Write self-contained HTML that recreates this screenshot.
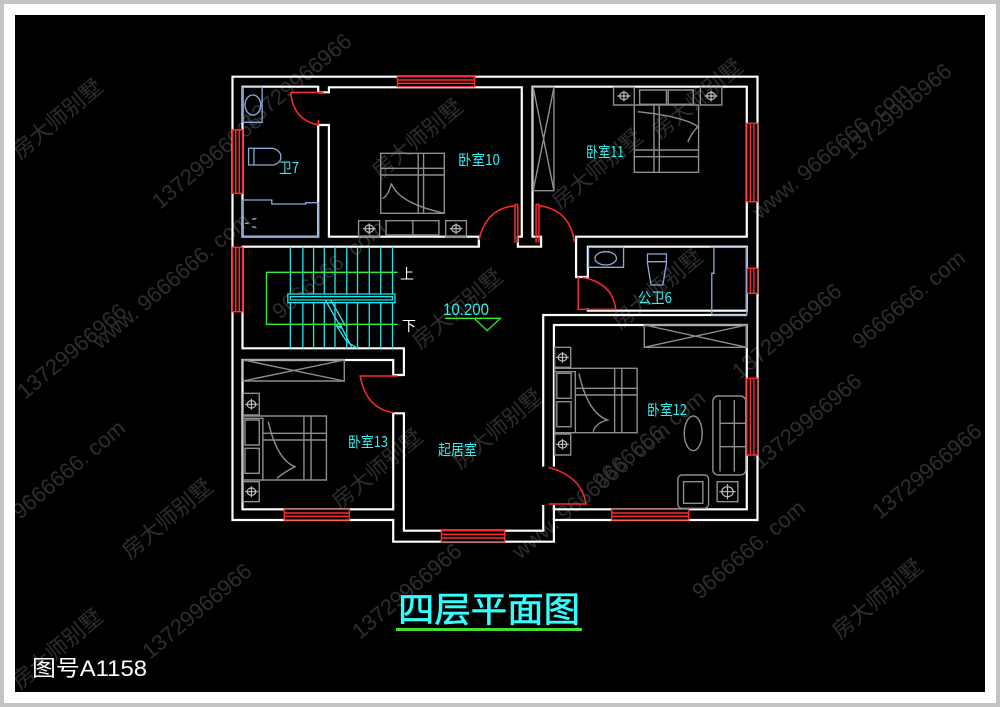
<!DOCTYPE html>
<html><head><meta charset="utf-8"><style>
html,body{margin:0;padding:0;background:#fff;}
svg{display:block;}
</style></head><body>
<svg width="1000" height="707" viewBox="0 0 1000 707" xmlns="http://www.w3.org/2000/svg">
<defs><clipPath id="blk"><rect x="15" y="15" width="970" height="677"/></clipPath></defs>
<rect x="0" y="0" width="1000" height="707" fill="#c4c4c4"/>
<rect x="4" y="4" width="992" height="699" fill="#ffffff"/>
<rect x="15" y="15" width="970" height="677" fill="#000"/>

<!-- watermarks -->
<g clip-path="url(#blk)">
<g fill="#2e2e2e" font-family="Liberation Sans, 'Noto Sans CJK SC', sans-serif" font-size="22">
<text transform="translate(20,160) rotate(-40)">房大师别墅</text>
<text transform="translate(25,400) rotate(-40)">13729966966</text>
<text transform="translate(20,520) rotate(-40)">9666666. com</text>
<text transform="translate(20,690) rotate(-40)">房大师别墅</text>
<text transform="translate(100,350) rotate(-40)">www. 9666666. com</text>
<text transform="translate(130,560) rotate(-40)">房大师别墅</text>
<text transform="translate(150,660) rotate(-40)">13729966966</text>
<text transform="translate(160,210) rotate(-40)">13729966966</text>
<text transform="translate(250,130) rotate(-40)">13729966966</text>
<text transform="translate(280,320) rotate(-40)">9666666. com</text>
<text transform="translate(340,510) rotate(-40)">房大师别墅</text>
<text transform="translate(360,640) rotate(-40)">13729966966</text>
<text transform="translate(380,180) rotate(-40)">房大师别墅</text>
<text transform="translate(420,350) rotate(-40)">房大师别墅</text>
<text transform="translate(460,470) rotate(-40)">房大师别墅</text>
<text transform="translate(520,560) rotate(-40)">www. 9666666. com</text>
<text transform="translate(560,210) rotate(-40)">房大师别墅</text>
<text transform="translate(600,490) rotate(-40)">9666666. com</text>
<text transform="translate(620,330) rotate(-40)">房大师别墅</text>
<text transform="translate(660,140) rotate(-40)">房大师别墅</text>
<text transform="translate(700,600) rotate(-40)">9666666. com</text>
<text transform="translate(740,380) rotate(-40)">13729966966</text>
<text transform="translate(760,220) rotate(-40)">www. 9666666. com</text>
<text transform="translate(760,470) rotate(-40)">13729966966</text>
<text transform="translate(840,640) rotate(-40)">房大师别墅</text>
<text transform="translate(860,350) rotate(-40)">9666666. com</text>
<text transform="translate(850,160) rotate(-40)">13729966966</text>
<text transform="translate(880,520) rotate(-40)">13729966966</text>
</g>
</g>

<g transform="translate(220 60) scale(0.357142857 0.333333333)" fill="none" stroke-linejoin="miter">
<g stroke="#ffffff" stroke-width="2.2">
<path vector-effect="non-scaling-stroke" d="M35 50 H1505 V1380 H935 V1445 H485 V1380 H35 Z"/>
<path vector-effect="non-scaling-stroke" d="M275 97 V80 H63 V530 H275 V195 H305 V530 H725 V560 H63 V865 H515 V945 H485 V900 H63 V1348 H485 V1060 H515 V1412 H905 V1335"/>
<path vector-effect="non-scaling-stroke" d="M275 97 H305 V82 H845 V530 H834 V560 H899 V530 H875 V80 H1475 V530 H994"/>
<path vector-effect="non-scaling-stroke" d="M997 530 V651 H1030 V560 H1475 V752 H1030 V745"/>
<path vector-effect="non-scaling-stroke" d="M905 1220 V765 H1475"/>
<path vector-effect="non-scaling-stroke" d="M935 1220 V795 H1475 V1348 H935 V1335"/>
<path vector-effect="non-scaling-stroke" d="M935 1335 V1380"/>
<path vector-effect="non-scaling-stroke" d="M725 530 V560"/>
</g>

<!-- windows -->
<g stroke="#ff2a2a" stroke-width="1.4" fill="#000">
<rect vector-effect="non-scaling-stroke" x="497" y="50" width="216" height="30"/>
<path vector-effect="non-scaling-stroke" d="M497 60 H713 M497 70 H713"/>
<rect vector-effect="non-scaling-stroke" x="35" y="210" width="28" height="190"/>
<path vector-effect="non-scaling-stroke" d="M44 210 V400 M54 210 V400"/>
<rect vector-effect="non-scaling-stroke" x="35" y="562" width="28" height="193"/>
<path vector-effect="non-scaling-stroke" d="M44 562 V755 M54 562 V755"/>
<rect vector-effect="non-scaling-stroke" x="1475" y="190" width="30" height="235"/>
<path vector-effect="non-scaling-stroke" d="M1485 190 V425 M1495 190 V425"/>
<rect vector-effect="non-scaling-stroke" x="1475" y="625" width="30" height="75"/>
<path vector-effect="non-scaling-stroke" d="M1485 625 V700 M1495 625 V700"/>
<rect vector-effect="non-scaling-stroke" x="1475" y="955" width="30" height="230"/>
<path vector-effect="non-scaling-stroke" d="M1485 955 V1185 M1495 955 V1185"/>
<rect vector-effect="non-scaling-stroke" x="180" y="1348" width="182" height="32"/>
<path vector-effect="non-scaling-stroke" d="M180 1359 H362 M180 1369 H362"/>
<rect vector-effect="non-scaling-stroke" x="620" y="1412" width="177" height="33"/>
<path vector-effect="non-scaling-stroke" d="M620 1423 H797 M620 1434 H797"/>
<rect vector-effect="non-scaling-stroke" x="1097" y="1348" width="215" height="32"/>
<path vector-effect="non-scaling-stroke" d="M1097 1359 H1312 M1097 1369 H1312"/>
</g>

<!-- doors -->
<g stroke="#ff2a2a" stroke-width="1.5">
<path vector-effect="non-scaling-stroke" d="M290 97 H198 M198 97 Q205 180 275 195 M275 180 V197"/>
<path vector-effect="non-scaling-stroke" d="M826 433 V548 M834 433 V548 M826 433 H834 M725 540 Q745 445 826 437"/>
<path vector-effect="non-scaling-stroke" d="M885 433 V548 M893 433 V548 M885 433 H893 M893 437 Q980 450 992 545"/>
<path vector-effect="non-scaling-stroke" d="M1003 650 V748 H1110 M1015 652 Q1100 670 1108 748"/>
<path vector-effect="non-scaling-stroke" d="M390 948 H497 M393 950 Q410 1048 488 1058"/>
<path vector-effect="non-scaling-stroke" d="M920 1332 H1025 M920 1222 Q1015 1250 1025 1335"/>
</g>

<!-- stairs -->
<g stroke="#22e8ee" stroke-width="1.3">
<path vector-effect="non-scaling-stroke" d="M197 560 V865 M232 560 V865 M262 560 V865 M292 560 V865 M322 560 V865 M355 560 V865 M385 560 V865 M418 560 V865 M450 560 V865 M483 560 V865"/>
<rect vector-effect="non-scaling-stroke" x="190" y="702" width="300" height="26" fill="#000"/>
<rect vector-effect="non-scaling-stroke" x="197" y="710" width="286" height="10"/>
<path vector-effect="non-scaling-stroke" d="M295 720 L340 805 L325 795 L355 845 L385 865 M310 720 L350 795 L335 790 L370 865"/>
</g>
<g stroke="#33ee33" stroke-width="1.3">
<path vector-effect="non-scaling-stroke" d="M497 637 H130 V793 H497"/>
<path vector-effect="non-scaling-stroke" d="M630 775 H785 L748 812 L712 775"/>
</g>

<!-- furniture gray -->
<g stroke="#8e8e8e" stroke-width="1.4">
<rect vector-effect="non-scaling-stroke" x="450" y="280" width="178" height="180"/>
<path vector-effect="non-scaling-stroke" d="M450 325 H628 M450 345 H628 M555 280 V460 M570 280 V460 M480 370 Q500 430 630 460 M480 370 Q470 410 455 415"/>
<rect vector-effect="non-scaling-stroke" x="388" y="482" width="59" height="48"/>
<rect vector-effect="non-scaling-stroke" x="632" y="482" width="58" height="48"/>
<rect vector-effect="non-scaling-stroke" x="465" y="482" width="148" height="43"/>
<path vector-effect="non-scaling-stroke" d="M540 482 V525"/>
<rect vector-effect="non-scaling-stroke" x="1160" y="135" width="180" height="202"/>
<path vector-effect="non-scaling-stroke" d="M1160 270 H1340 M1160 290 H1340 M1215 135 V337 M1230 135 V337 M1170 155 Q1300 170 1338 200 Q1320 220 1310 245"/>
<rect vector-effect="non-scaling-stroke" x="1102" y="82" width="58" height="53"/>
<rect vector-effect="non-scaling-stroke" x="1345" y="82" width="60" height="53"/>
<rect vector-effect="non-scaling-stroke" x="1175" y="90" width="75" height="43"/>
<rect vector-effect="non-scaling-stroke" x="1255" y="90" width="70" height="43"/>
<rect vector-effect="non-scaling-stroke" x="877" y="82" width="58" height="310"/>
<path vector-effect="non-scaling-stroke" d="M877 82 L935 392 M935 82 L877 392"/>
<rect vector-effect="non-scaling-stroke" x="65" y="900" width="283" height="63"/>
<path vector-effect="non-scaling-stroke" d="M65 900 L348 963 M348 900 L65 963"/>
<rect vector-effect="non-scaling-stroke" x="65" y="1068" width="233" height="192"/>
<path vector-effect="non-scaling-stroke" d="M65 1075 H120 V1260 M235 1068 V1260 M255 1068 V1260 M120 1120 H298 M120 1140 H298 M135 1085 Q160 1200 210 1220 Q175 1240 160 1255"/>
<rect vector-effect="non-scaling-stroke" x="70" y="1080" width="40" height="75"/>
<rect vector-effect="non-scaling-stroke" x="70" y="1165" width="40" height="75"/>
<rect vector-effect="non-scaling-stroke" x="65" y="1000" width="45" height="65"/>
<rect vector-effect="non-scaling-stroke" x="65" y="1265" width="45" height="60"/>
<rect vector-effect="non-scaling-stroke" x="1188" y="795" width="287" height="67"/>
<path vector-effect="non-scaling-stroke" d="M1188 795 L1475 862 M1475 795 L1188 862"/>
<rect vector-effect="non-scaling-stroke" x="937" y="925" width="231" height="193"/>
<path vector-effect="non-scaling-stroke" d="M937 935 H995 V1118 M1105 925 V1118 M1125 925 V1118 M995 985 H1168 M995 1005 H1168 M1005 940 Q1030 1060 1085 1080 Q1050 1090 1045 1115"/>
<rect vector-effect="non-scaling-stroke" x="943" y="940" width="40" height="75"/>
<rect vector-effect="non-scaling-stroke" x="943" y="1025" width="40" height="75"/>
<rect vector-effect="non-scaling-stroke" x="937" y="862" width="45" height="60"/>
<rect vector-effect="non-scaling-stroke" x="937" y="1122" width="45" height="63"/>
<rect vector-effect="non-scaling-stroke" x="1380" y="1008" width="92" height="237" rx="15"/>
<path vector-effect="non-scaling-stroke" d="M1400 1020 V1235 M1440 1020 V1235 M1400 1090 H1472 M1400 1160 H1472"/>
<ellipse vector-effect="non-scaling-stroke" cx="1325" cy="1120" rx="25" ry="52"/>
<rect vector-effect="non-scaling-stroke" x="1282" y="1245" width="86" height="100" rx="12"/>
<path vector-effect="non-scaling-stroke" d="M1298 1265 H1352 V1330 H1298 Z"/>
<rect vector-effect="non-scaling-stroke" x="1392" y="1265" width="58" height="60"/>
</g>
<g stroke="#bdbdbd" stroke-width="1.2">
<ellipse vector-effect="non-scaling-stroke" cx="418" cy="506" rx="12" ry="11"/><path vector-effect="non-scaling-stroke" d="M400 506 H436 M418 490 V522"/>
<ellipse vector-effect="non-scaling-stroke" cx="661" cy="506" rx="12" ry="11"/><path vector-effect="non-scaling-stroke" d="M643 506 H679 M661 490 V522"/>
<ellipse vector-effect="non-scaling-stroke" cx="1131" cy="108" rx="12" ry="11"/><path vector-effect="non-scaling-stroke" d="M1113 108 H1149 M1131 92 V124"/>
<ellipse vector-effect="non-scaling-stroke" cx="1375" cy="108" rx="12" ry="11"/><path vector-effect="non-scaling-stroke" d="M1357 108 H1393 M1375 92 V124"/>
<ellipse vector-effect="non-scaling-stroke" cx="88" cy="1033" rx="12" ry="11"/><path vector-effect="non-scaling-stroke" d="M70 1033 H106 M88 1017 V1049"/>
<ellipse vector-effect="non-scaling-stroke" cx="88" cy="1295" rx="12" ry="11"/><path vector-effect="non-scaling-stroke" d="M70 1295 H106 M88 1279 V1311"/>
<ellipse vector-effect="non-scaling-stroke" cx="959" cy="892" rx="12" ry="11"/><path vector-effect="non-scaling-stroke" d="M941 892 H977 M959 876 V908"/>
<ellipse vector-effect="non-scaling-stroke" cx="959" cy="1153" rx="12" ry="11"/><path vector-effect="non-scaling-stroke" d="M941 1153 H977 M959 1137 V1169"/>
<ellipse vector-effect="non-scaling-stroke" cx="1421" cy="1295" rx="16" ry="15"/><path vector-effect="non-scaling-stroke" d="M1398 1295 H1444 M1421 1272 V1318"/>
</g>
<g stroke="#8fa9d6" stroke-width="1.3">
<rect vector-effect="non-scaling-stroke" x="63" y="82" width="55" height="105"/>
<ellipse vector-effect="non-scaling-stroke" cx="92" cy="135" rx="22" ry="30"/>
<path vector-effect="non-scaling-stroke" d="M80 265 H150 Q172 275 170 290 Q172 308 150 315 H80 Z M95 265 V315"/>
<path vector-effect="non-scaling-stroke" d="M63 420 H145 V432 H240 V428 H275 V530 H63 Z M70 490 H80 M90 478 L102 475 M90 500 L102 503"/>
<rect vector-effect="non-scaling-stroke" x="1032" y="562" width="98" height="60"/>
<ellipse vector-effect="non-scaling-stroke" cx="1080" cy="595" rx="30" ry="20"/>
<path vector-effect="non-scaling-stroke" d="M1197 582 H1250 V610 L1240 675 H1207 L1197 610 Z M1197 605 H1250"/>
<path vector-effect="non-scaling-stroke" d="M1370 562 H1475 V765 H1377 V640 H1383 V562"/>
</g>
</g>

<g fill="#33f0f0" font-family="'Noto Sans CJK SC', 'WenQuanYi Zen Hei', sans-serif" font-size="15">
<text x="458" y="165" textLength="42" lengthAdjust="spacingAndGlyphs">卧室10</text>
<text x="586" y="157" textLength="38" lengthAdjust="spacingAndGlyphs">卧室11</text>
<text x="279" y="173" textLength="20" lengthAdjust="spacingAndGlyphs">卫7</text>
<text x="638" y="303" textLength="34" lengthAdjust="spacingAndGlyphs">公卫6</text>
<text x="647" y="415" textLength="40" lengthAdjust="spacingAndGlyphs">卧室12</text>
<text x="348" y="447" textLength="40" lengthAdjust="spacingAndGlyphs">卧室13</text>
<text x="438" y="455" textLength="39" lengthAdjust="spacingAndGlyphs">起居室</text>
</g>
<text x="443" y="315" fill="#33f0f0" font-family="'Liberation Sans', sans-serif" font-size="17" textLength="46" lengthAdjust="spacingAndGlyphs">10.200</text>
<text x="400" y="279" fill="#fff" font-family="'Noto Sans CJK SC', sans-serif" font-size="14">上</text>
<text x="402" y="331" fill="#fff" font-family="'Noto Sans CJK SC', sans-serif" font-size="14">下</text>

<text x="398" y="622" fill="#33ffff" stroke="#33ffff" stroke-width="0.6" font-family="'Noto Sans CJK SC', 'WenQuanYi Zen Hei', sans-serif" font-size="35" textLength="182" lengthAdjust="spacingAndGlyphs">四层平面图</text>
<rect x="396" y="628" width="186" height="3" fill="#44dd33"/>
<text x="32" y="676" fill="#fff" font-family="'Liberation Sans', 'Noto Sans CJK SC', sans-serif" font-size="22" textLength="115" lengthAdjust="spacingAndGlyphs">图号A1158</text>
</svg>
</body></html>
